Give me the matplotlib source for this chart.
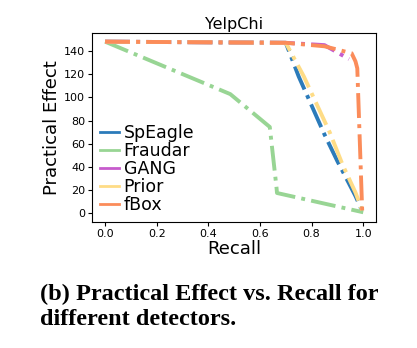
import matplotlib
matplotlib.use("Agg")
import matplotlib.pyplot as plt
from matplotlib.lines import Line2D

title = "YelpChi"
xlabel = "Recall"
ylabel = "Practical Effect"
caption = "(b) Practical Effect vs. Recall for\ndifferent detectors."

speagle_x = [0.0, 0.70, 0.75, 0.85, 0.90, 0.97, 1.0]
speagle_y = [148, 147, 118, 68, 45, 15, 0]
fraudar_x = [0.0, 0.485, 0.638, 0.664, 0.666, 1.0]
fraudar_y = [148, 102.8, 74.5, 22.5, 17.6, 1]
gang_x = [0.0, 0.70, 0.85, 0.945]
gang_y = [148, 147, 145, 133]
prior_x = [0.0, 0.70, 0.77, 0.87, 0.92, 0.97, 1.0]
prior_y = [148, 147, 118, 70, 42, 18, 0]
fbox_x = [0.0, 0.70, 0.85, 0.955, 0.97, 0.977, 0.996, 1.0]
fbox_y = [148, 147, 144, 138, 131, 125, 2.3, 0]

series = [
    ("SpEagle", speagle_x, speagle_y, "#2b7bba"),
    ("Fraudar", fraudar_x, fraudar_y, "#98d594"),
    ("GANG", gang_x, gang_y, "#c65bcc"),
    ("Prior", prior_x, prior_y, "#fedc86"),
    ("fBox", fbox_x, fbox_y, "#fb8c5a"),
]

fig = plt.figure(figsize=(4.17, 3.48), dpi=100)
ax = fig.add_axes([0.221, 0.362, 0.681, 0.543])
handles = []
for name, xs, ys, c in series:
    ax.plot(xs, ys, linestyle="-.", linewidth=2.8, color=c)
    handles.append(Line2D([], [], color=c, linewidth=2.0, linestyle="-", label=name))

ax.set_title(title, fontsize=11.5, pad=3)
ax.set_xlabel(xlabel, fontsize=13, labelpad=1)
ax.set_ylabel(ylabel, fontsize=13, labelpad=2)
ax.tick_params(labelsize=8, length=3, pad=2)
ax.set_xticks([0.0, 0.2, 0.4, 0.6, 0.8, 1.0])
ax.set_yticks([0, 20, 40, 60, 80, 100, 120, 140])
ax.legend(handles=handles, loc="lower left", frameon=False, fontsize=12.5,
          labelspacing=0.0, handlelength=1.1, handletextpad=0.25,
          borderaxespad=0.0, borderpad=0.3, bbox_to_anchor=(0.01, 0.015))

fig.text(0.095, 0.118, caption, fontsize=17.5, fontweight="bold",
         family=["Liberation Serif", "DejaVu Serif"], ha="left", va="center",
         linespacing=1.3)

fig.savefig("out.png", dpi=100)
